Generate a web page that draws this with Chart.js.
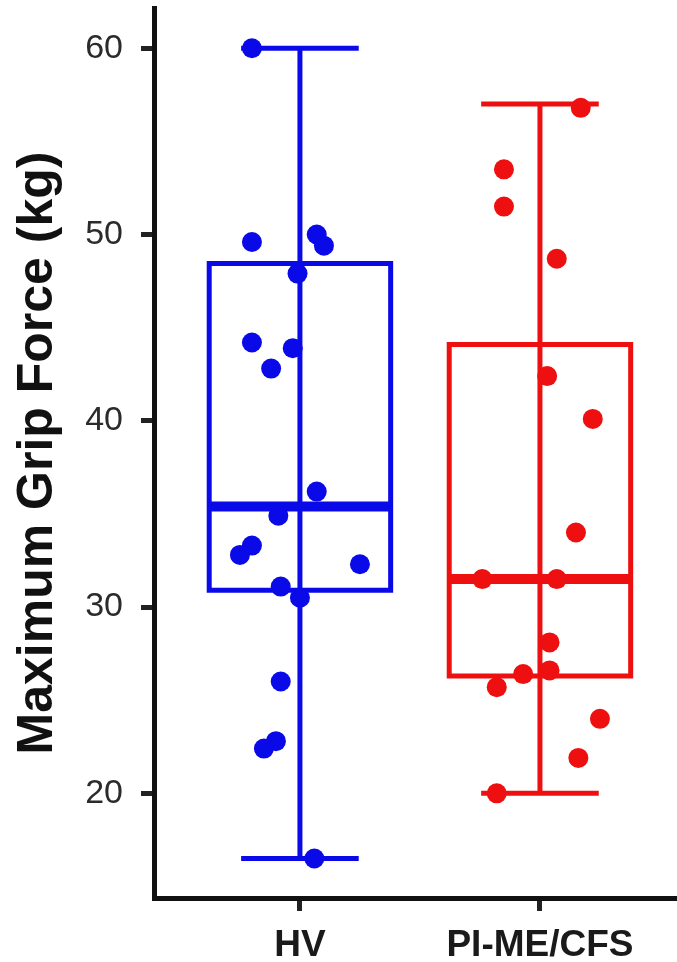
<!DOCTYPE html>
<html>
<head>
<meta charset="utf-8">
<script src="https://cdn.jsdelivr.net/npm/chart.js@4/dist/chart.umd.min.js"></script>
<style>
  html, body { margin: 0; padding: 0; background: #fff; }
  canvas { display: block; }
</style>
</head>
<body>
<canvas id="grip" width="677" height="962"></canvas>
<script>
// Maximum grip force, healthy volunteers vs PI-ME/CFS — box + jittered points

const GROUPS = ["HV", "PI-ME/CFS"]
const Y_TICKS = [20, 30, 40, 50, 60]

// individual subjects (kg) and their horizontal jitter
const HV_VALUES = [60.0, 49.6, 50.0, 49.4, 47.9, 44.2, 43.9, 42.8, 36.2, 34.9, 33.3, 32.8, 32.3, 31.1, 30.5, 26.0, 22.8, 22.4, 16.5]
const HV_JITTER = [-0.20, -0.20, 0.07, 0.10, -0.01, -0.20, -0.03, -0.12, 0.07, -0.09, -0.20, -0.25, 0.25, -0.08, 0.00, -0.08, -0.10, -0.15, 0.06]
const PI_VALUES = [56.8, 53.5, 51.5, 48.7, 42.4, 40.1, 34.0, 31.5, 31.5, 28.1, 26.6, 26.4, 25.7, 24.0, 21.9, 20.0]
const PI_JITTER = [0.17, -0.15, -0.15, 0.07, 0.03, 0.22, 0.15, -0.24, 0.07, 0.04, 0.04, -0.07, -0.18, 0.25, 0.16, -0.18]

// box summaries per group
const BOX_Q1 = [30.9, 26.3]
const BOX_MEDIAN = [35.4, 31.5]
const BOX_Q3 = [48.45, 44.1]
const WHISKER_LOW = [16.5, 20.0]
const WHISKER_HIGH = [60.0, 57.0]

const COLORS = ["#0a0ae8", "#ee1010"]
const BOX_HALF = 0.378
const CAP_HALF = 0.245
const FONT = "'Liberation Sans', Arial, sans-serif"

function lineSet(points, color, width) {
  return {
    type: "scatter",
    data: points,
    showLine: true,
    borderColor: color,
    borderWidth: width,
    borderJoinStyle: "miter",
    borderCapStyle: "butt",
    pointRadius: 0,
    pointHoverRadius: 0,
    fill: false,
    tension: 0,
    order: 2,
  }
}

function groupDatasets(g) {
  const c = COLORS[g]
  const lo = g - BOX_HALF, hi = g + BOX_HALF
  return [
    lineSet([
      { x: lo, y: BOX_Q1[g] }, { x: lo, y: BOX_Q3[g] }, { x: hi, y: BOX_Q3[g] },
      { x: hi, y: BOX_Q1[g] }, { x: lo, y: BOX_Q1[g] }, { x: lo, y: BOX_Q3[g] },
    ], c, 5),
    lineSet([{ x: lo, y: BOX_MEDIAN[g] }, { x: hi, y: BOX_MEDIAN[g] }], c, 10),
    lineSet([{ x: g, y: WHISKER_LOW[g] }, { x: g, y: WHISKER_HIGH[g] }], c, 5),
    lineSet([{ x: g - CAP_HALF, y: WHISKER_HIGH[g] }, { x: g + CAP_HALF, y: WHISKER_HIGH[g] }], c, 5),
    lineSet([{ x: g - CAP_HALF, y: WHISKER_LOW[g] }, { x: g + CAP_HALF, y: WHISKER_LOW[g] }], c, 5),
  ]
}

function pointSet(values, jitter, g) {
  return {
    type: "scatter",
    data: values.map((v, i) => ({ x: g + jitter[i], y: v })),
    backgroundColor: COLORS[g],
    borderWidth: 0,
    pointRadius: 10,
    pointHoverRadius: 10,
    order: 0,
  }
}

new Chart(document.getElementById("grip"), {
  type: "scatter",
  data: {
    datasets: [
      pointSet(HV_VALUES, HV_JITTER, 0),
      pointSet(PI_VALUES, PI_JITTER, 1),
      ...groupDatasets(0),
      ...groupDatasets(1),
    ],
  },
  options: {
    responsive: false,
    animation: false,
    devicePixelRatio: 1,
    layout: { autoPadding: false, padding: { top: 8, left: 0, right: 0, bottom: 0 } },
    plugins: {
      legend: { display: false },
      tooltip: { enabled: false },
    },
    scales: {
      x: {
        type: "linear",
        min: -0.608,
        max: 1.571,
        afterBuildTicks: (s) => { s.ticks = GROUPS.map((_, i) => ({ value: i })) },
        afterFit: (s) => { s.height = 64; s.paddingLeft = 0; s.paddingRight = 0 },
        grid: { drawOnChartArea: false, drawTicks: true, tickLength: 13, lineWidth: 5, color: "#222" },
        border: { display: true, color: "#111", width: 5 },
        ticks: {
          autoSkip: false,
          maxRotation: 0,
          padding: 13,
          color: "#1a1a1a",
          font: { family: FONT, size: 37, weight: "bold" },
          callback: (v) => GROUPS[v],
        },
      },
      y: {
        min: 14.38,
        max: 62.16,
        afterBuildTicks: (s) => { s.ticks = Y_TICKS.map(v => ({ value: v })) },
        afterFit: (s) => { s.width = 154; s.paddingTop = 0; s.paddingBottom = 0 },
        grid: { drawOnChartArea: false, drawTicks: true, tickLength: 13, lineWidth: 5, color: "#222" },
        border: { display: true, color: "#111", width: 5 },
        ticks: {
          padding: 18,
          color: "#2b2b2b",
          font: { family: FONT, size: 34 },
        },
        title: {
          display: true,
          text: "Maximum Grip Force (kg)",
          color: "#111",
          padding: { top: 8, bottom: 0 },
          font: { family: FONT, size: 50, weight: "bold" },
        },
      },
    },
  },
})
</script>
</body>
</html>
